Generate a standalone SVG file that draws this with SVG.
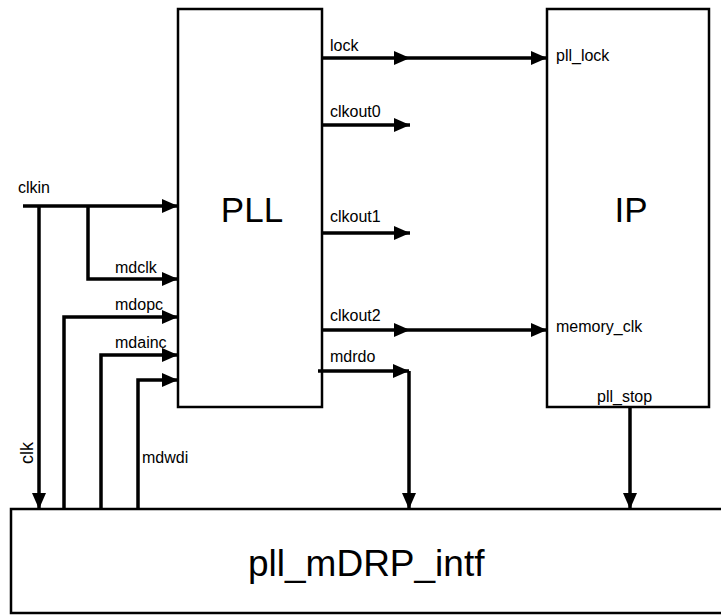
<svg xmlns="http://www.w3.org/2000/svg" width="721" height="615" viewBox="0 0 721 615">
<defs>
<marker id="ah" viewBox="0 0 16 14" refX="16" refY="7" markerWidth="16" markerHeight="14" markerUnits="userSpaceOnUse" orient="auto">
<path d="M0,0 L16,7 L0,14 Z" fill="#000"/>
</marker>
</defs>
<style>
.box{fill:#fff;stroke:#000;stroke-width:2.5}
.w{fill:none;stroke:#000;stroke-width:3.5;stroke-linejoin:miter}
.a{marker-end:url(#ah)}
.lbl{font-family:"Liberation Sans",Arial,sans-serif;font-size:16px;fill:#000}
.big{font-family:"Liberation Sans",Arial,sans-serif;font-size:35px;fill:#000}
</style>
<rect width="721" height="615" fill="#fff"/>
<g id="pll">
<rect class="box" x="178" y="9" width="144" height="398"/>
<text class="big" x="252" y="222" text-anchor="middle">PLL</text>
</g>
<g id="ip">
<rect class="box" x="547" y="9" width="162" height="398"/>
<text class="big" x="631" y="222" text-anchor="middle">IP</text>
<text class="lbl" x="556" y="61">pll_lock</text>
<text class="lbl" x="556" y="332">memory_clk</text>
<text class="lbl" x="597" y="402">pll_stop</text>
</g>
<g id="intf">
<rect class="box" x="11" y="509" width="716" height="104"/>
<text class="big" x="248" y="576" style="font-size:37px">pll_mDRP_intf</text>
</g>
<g id="connectors">
<path class="w a" d="M23,206 H178"/>
<path class="w a" d="M39,206 V509"/>
<path class="w a" d="M88,206 V279 H178"/>
<path class="w a" d="M64,509 V317 H178"/>
<path class="w a" d="M101,509 V355 H178"/>
<path class="w a" d="M138,509 V380 H178"/>
<path class="w a" d="M322,58 H410"/>
<path class="w a" d="M410,58 H547"/>
<path class="w a" d="M322,125 H410"/>
<path class="w a" d="M322,233 H410"/>
<path class="w a" d="M322,330 H410"/>
<path class="w a" d="M410,330 H547"/>
<path class="w a" d="M318,371 H409"/>
<path class="w a" d="M409,371 V509"/>
<path class="w a" d="M630,407 V509"/>
</g>
<g id="labels">
<text class="lbl" x="18" y="193">clkin</text>
<text class="lbl" x="115" y="273">mdclk</text>
<text class="lbl" x="115" y="310">mdopc</text>
<text class="lbl" x="115" y="348">mdainc</text>
<text class="lbl" x="142" y="463">mdwdi</text>
<text class="lbl" transform="translate(33,464) rotate(-90)" style="font-size:18px">clk</text>
<text class="lbl" x="330" y="51">lock</text>
<text class="lbl" x="330" y="117">clkout0</text>
<text class="lbl" x="330" y="222">clkout1</text>
<text class="lbl" x="330" y="321">clkout2</text>
<text class="lbl" x="330" y="362">mdrdo</text>
</g>
</svg>
